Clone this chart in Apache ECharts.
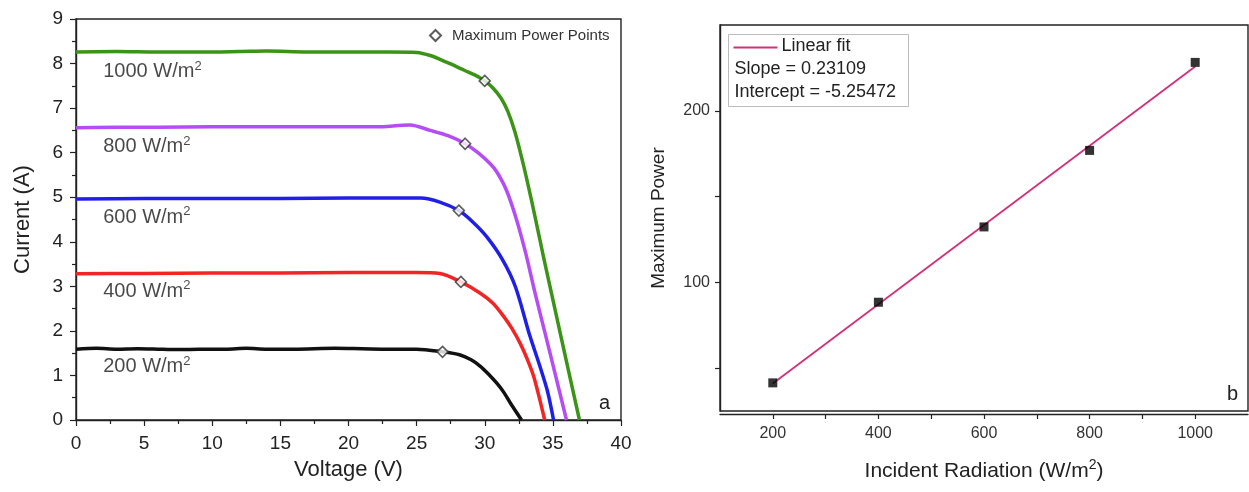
<!DOCTYPE html>
<html>
<head>
<meta charset="utf-8">
<script src="https://cdn.jsdelivr.net/npm/echarts@6/dist/echarts.min.js"></script>
<style>
html, body { margin: 0; padding: 0; background: #fff; }
#chart { width: 1249px; height: 492px; }
</style>
</head>
<body>
<div id="chart"></div>
<script>
// panel a: I-V curves
var v1000 = [0, 3, 6, 9, 12, 14, 17, 20, 23, 25, 26, 27.2, 28.5, 29.3, 30, 30.6, 31.2, 31.7, 32.2, 32.7, 33.2, 33.7, 34.3, 35, 36, 36.95];
var i1000 = [8.26, 8.27, 8.26, 8.26, 8.27, 8.28, 8.26, 8.26, 8.26, 8.25, 8.18, 8.03, 7.85, 7.74, 7.61, 7.45, 7.22, 6.92, 6.48, 5.90, 5.25, 4.55, 3.68, 2.70, 1.31, 0];
var v800 = [0, 3, 6, 10, 14, 18, 22, 24.5, 26, 27.3, 28.56, 29.5, 30.4, 30.9, 31.6, 32.35, 33, 33.7, 34.5, 35.3, 36.0];
var i800 = [6.56, 6.57, 6.57, 6.58, 6.58, 6.58, 6.58, 6.62, 6.50, 6.38, 6.20, 6.00, 5.75, 5.56, 5.15, 4.48, 3.75, 2.84, 1.86, 0.87, 0];
var v600 = [0, 5, 10, 15, 20, 25.3, 26.7, 28.1, 29.1, 30.15, 31.3, 32.25, 33.3, 34.0, 34.6, 35.05];
var i600 = [4.96, 4.97, 4.97, 4.97, 4.98, 4.98, 4.89, 4.70, 4.45, 4.11, 3.60, 2.99, 1.90, 1.25, 0.65, 0];
var v400 = [0, 5, 10, 15, 20, 25, 26.7, 28.25, 29.7, 30.6, 31.4, 32, 32.6, 33.1, 33.6, 34.4];
var i400 = [3.28, 3.29, 3.30, 3.30, 3.31, 3.31, 3.29, 3.10, 2.84, 2.62, 2.32, 2.05, 1.72, 1.38, 0.97, 0];
var v200 = [0, 1.5, 3, 4.5, 6, 7, 9, 11, 12.5, 14, 16, 19, 21, 23, 25, 26.9, 28.2, 29, 29.7, 30.3, 30.9, 31.4, 31.9, 32.7];
var i200 = [1.59, 1.61, 1.59, 1.60, 1.59, 1.58, 1.59, 1.59, 1.61, 1.59, 1.59, 1.61, 1.60, 1.59, 1.59, 1.53, 1.46, 1.35, 1.20, 1.02, 0.82, 0.62, 0.37, 0];

var mppV = [26.9, 28.25, 28.1, 28.56, 30.0];
var mppI = [1.53, 3.10, 4.70, 6.20, 7.61];

var curveNames = ['1000', '800', '600', '400', '200'];
var curveColors = ['#3b9417', '#b54cf5', '#1f1fe8', '#f22525', '#111111'];
var labelV = [2, 2, 2, 2, 2];
var labelI = [7.82, 6.14, 4.55, 2.89, 1.19];

// panel b: maximum power vs radiation
var radiation = [200, 400, 600, 800, 1000];
var maxPower = [41.4, 88.4, 132.3, 176.9, 228.2];
var fitX = [200, 1000];
var fitY = [41.0, 225.8];
var slopeText = 'Slope = 0.23109';
var interceptText = 'Intercept = -5.25472';

var FONT = 'Liberation Sans, Arial, sans-serif';

function pairs(xs, ys) {
    var out = [];
    for (var i = 0; i < xs.length; i++) out.push([xs[i], ys[i]]);
    return out;
}

var curveX = [v1000, v800, v600, v400, v200];
var curveY = [i1000, i800, i600, i400, i200];

var series = [];
for (var k = 0; k < curveNames.length; k++) {
    series.push({
        name: curveNames[k] + ' W/m2',
        type: 'line',
        xAxisIndex: 0, yAxisIndex: 0,
        data: pairs(curveX[k], curveY[k]),
        smooth: 0.3,
        showSymbol: false,
        lineStyle: { color: curveColors[k], width: 3.5 },
        z: 2
    });
}

var labelData = [];
for (var k = 0; k < curveNames.length; k++) {
    labelData.push({ value: [labelV[k], labelI[k]], name: curveNames[k] });
}
series.push({
    type: 'scatter',
    xAxisIndex: 0, yAxisIndex: 0,
    symbolSize: 0,
    data: labelData,
    silent: true,
    label: {
        show: true,
        position: 'right',
        distance: 0,
        formatter: function (p) { return '{t|' + p.name + ' W/m}{s|2}'; },
        rich: {
            t: { fontSize: 20, color: '#1a1a1a', fontFamily: FONT, lineHeight: 24 },
            s: { fontSize: 13, color: '#1a1a1a', fontFamily: FONT, lineHeight: 13, verticalAlign: 'top' }
        }
    }
});

series.push({
    name: 'Maximum Power Points',
    type: 'scatter',
    xAxisIndex: 0, yAxisIndex: 0,
    symbol: 'diamond',
    symbolSize: 11,
    data: pairs(mppV, mppI),
    itemStyle: { color: '#fff', borderColor: '#333', borderWidth: 1.6 },
    z: 5
});

series.push({
    name: 'Linear fit',
    type: 'line',
    xAxisIndex: 1, yAxisIndex: 1,
    data: pairs(fitX, fitY),
    showSymbol: false,
    lineStyle: { color: '#d2307a', width: 1.8 },
    z: 2
});
series.push({
    type: 'scatter',
    xAxisIndex: 1, yAxisIndex: 1,
    symbol: 'rect',
    symbolSize: 9,
    data: pairs(radiation, maxPower),
    itemStyle: { color: '#000' },
    z: 5
});

var myChart = echarts.init(document.getElementById('chart'));
myChart.setOption({
    animation: false,
    backgroundColor: '#fff',
    legend: {
        data: [{ name: 'Maximum Power Points', icon: 'diamond' }],
        left: 424, top: 23,
        itemWidth: 11, itemHeight: 11, itemGap: 6,
        textStyle: { fontSize: 15, color: '#333', fontFamily: FONT, padding: [0, 0, 0, 6] }
    },
    grid: [
        { left: 76, top: 19, right: 628, bottom: 72, show: true, borderColor: '#222', borderWidth: 1.4 },
        { left: 720, top: 25, right: 1, bottom: 81, show: true, borderColor: '#222', borderWidth: 1.4 }
    ],
    xAxis: [{
        gridIndex: 0, type: 'value', min: 0, max: 40, interval: 5,
        name: 'Voltage (V)', nameLocation: 'middle', nameGap: 39,
        nameTextStyle: { fontSize: 22, color: '#222', fontFamily: FONT },
        axisLine: { show: true, lineStyle: { color: '#222', width: 1.4 } },
        axisTick: { show: true, length: 6, lineStyle: { color: '#222', width: 1.2 } },
        minorTick: { show: true, splitNumber: 2, length: 4, lineStyle: { color: '#222', width: 1.2 } },
        splitLine: { show: false },
        axisLabel: { fontSize: 19, color: '#222', fontFamily: FONT, margin: 14 }
    }, {
        gridIndex: 1, type: 'value', min: 100, max: 1100, interval: 100,
        offset: 3,
        name: '{t|Incident Radiation (W/m}{s|2}{t|)}', nameLocation: 'middle', nameGap: 44,
        nameTextStyle: {
            rich: {
                t: { fontSize: 21, color: '#222', fontFamily: FONT, lineHeight: 26 },
                s: { fontSize: 14, color: '#222', fontFamily: FONT, lineHeight: 14, verticalAlign: 'top' }
            }
        },
        axisLine: { show: true, lineStyle: { color: '#222', width: 1.4 } },
        axisTick: { show: true, length: 5, customValues: [200, 300, 400, 500, 600, 700, 800, 900, 1000],
            lineStyle: { color: '#222', width: 1.2 } },
        splitLine: { show: false },
        axisLabel: { fontSize: 16, color: '#333', fontFamily: FONT, margin: 12,
            customValues: [200, 400, 600, 800, 1000],
            formatter: function (v) { return String(v); } }
    }],
    yAxis: [{
        gridIndex: 0, type: 'value', min: 0, max: 9, interval: 1,
        name: 'Current (A)', nameLocation: 'middle', nameGap: 42,
        nameTextStyle: { fontSize: 22, color: '#222', fontFamily: FONT },
        axisLine: { show: true, lineStyle: { color: '#222', width: 1.4 } },
        axisTick: { show: true, length: 6, lineStyle: { color: '#222', width: 1.2 } },
        minorTick: { show: true, splitNumber: 2, length: 4, lineStyle: { color: '#222', width: 1.2 } },
        splitLine: { show: false },
        axisLabel: { fontSize: 19, color: '#222', fontFamily: FONT, margin: 13 }
    }, {
        gridIndex: 1, type: 'value', min: 25, max: 250, interval: 25,
        name: 'Maximum Power', nameLocation: 'middle', nameGap: 52,
        nameTextStyle: { fontSize: 19, color: '#222', fontFamily: FONT },
        axisLine: { show: true, lineStyle: { color: '#222', width: 1.4 } },
        axisTick: { show: true, length: 5, customValues: [50, 100, 150, 200],
            lineStyle: { color: '#222', width: 1.2 } },
        splitLine: { show: false },
        axisLabel: { fontSize: 16, color: '#333', fontFamily: FONT, margin: 10,
            customValues: [100, 200] }
    }],
    graphic: [
        { type: 'text', left: 599, top: 393, style: { text: 'a', fontSize: 20, fill: '#222', fontFamily: FONT } },
        { type: 'text', left: 1227, top: 384, style: { text: 'b', fontSize: 20, fill: '#222', fontFamily: FONT } },
        {
            type: 'group', left: 728, top: 34,
            children: [
                { type: 'rect', shape: { x: 0, y: 0, width: 180, height: 72 },
                  style: { fill: '#fff', stroke: '#bbb', lineWidth: 1 } },
                { type: 'line', shape: { x1: 5, y1: 13, x2: 49, y2: 13 },
                  style: { stroke: '#d2307a', lineWidth: 2 } },
                { type: 'text', x: 53, y: 3, style: { text: 'Linear fit', fontSize: 18, fill: '#222', fontFamily: FONT } },
                { type: 'text', x: 6, y: 26, style: { text: slopeText, fontSize: 18, fill: '#222', fontFamily: FONT } },
                { type: 'text', x: 6, y: 49, style: { text: interceptText, fontSize: 18, fill: '#222', fontFamily: FONT } }
            ]
        }
    ],
    series: series
});
</script>
</body>
</html>
